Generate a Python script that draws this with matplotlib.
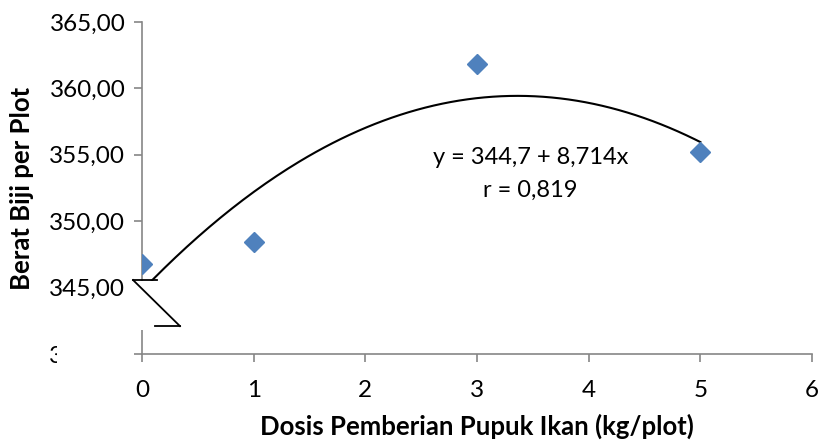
import numpy as np
import matplotlib.pyplot as plt
from matplotlib.patches import Rectangle

plt.rcParams['font.family'] = ['Lato', 'DejaVu Sans']

# dosis pupuk ikan (kg/plot) dan berat biji per plot
dosis = [0, 1, 3, 5]
berat = [346.8, 348.4, 361.8, 355.2]
x_ticks = [0, 1, 2, 3, 4, 5, 6]
y_ticks = [340, 345, 350, 355, 360, 365]
persamaan = "y = 344,7 + 8,714x"
korelasi = "r = 0,819"

fig = plt.figure(figsize=(8.18, 4.41), dpi=100)
ax = fig.add_axes([142 / 818, 1 - 354 / 441, 670 / 818, 332 / 441])

# trendline polinomial orde 2
koef = np.polyfit(dosis, berat, 2)
xs = np.linspace(0, 5, 200)
ax.plot(xs, np.polyval(koef, xs), color='black', lw=1.5, zorder=2)

ax.plot(dosis, berat, linestyle='none', marker='D', markersize=10.5,
        color='#4F81BD', markeredgecolor='#4F81BD', zorder=3)

ax.set_xlim(0, 6)
ax.set_ylim(340, 365)
ax.set_xticks(x_ticks)
ax.set_yticks(y_ticks)
ax.set_yticklabels([f"{v:.2f}".replace('.', ',') for v in y_ticks])
ax.tick_params(axis='both', length=6, width=1.2, color='#868686',
               labelsize=17.5, pad=6, labelcolor='black')
ax.tick_params(axis='x', pad=13)

for s in ['top', 'right']:
    ax.spines[s].set_visible(False)
for s in ['left', 'bottom']:
    ax.spines[s].set_color('#868686')
    ax.spines[s].set_linewidth(1.2)

ax.set_xlabel("Dosis Pemberian Pupuk Ikan (kg/plot)", fontsize=18.5,
              fontweight='bold', labelpad=9)
ax.set_ylabel("Berat Biji per Plot", fontsize=18.5, fontweight='bold',
              labelpad=11)

ax.text(3.48, 354.8, persamaan, fontsize=17, ha='center', va='center')
ax.text(3.48, 352.3, korelasi, fontsize=17, ha='center', va='center')

# potongan sumbu y
ax.add_patch(Rectangle((-0.16, 341.8), 0.55, 3.73, facecolor='white',
                       edgecolor='none', clip_on=False, zorder=4))
brk = dict(color='black', lw=1.3, clip_on=False, zorder=5)
ax.plot([-0.08, 0.135], [345.57, 345.57], **brk)
ax.plot([-0.08, 0.34], [345.57, 342.1], **brk)
ax.plot([0.115, 0.34], [342.1, 342.1], **brk)

# label 340 sebagian tertutup
fig.add_artist(Rectangle((57 / 818, 1 - 372 / 441), 69 / 818, 36 / 441,
                         transform=fig.transFigure, facecolor='white',
                         edgecolor='none', zorder=10))

fig.savefig('out.png', dpi=100)
